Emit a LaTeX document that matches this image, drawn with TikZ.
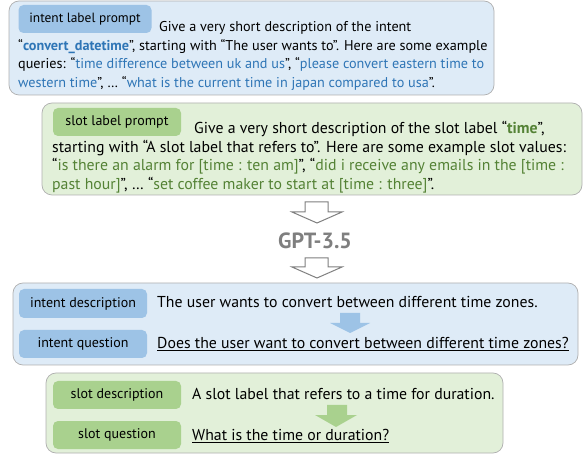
\documentclass[tikz,border=0pt]{standalone}
\usepackage{fontspec}
\setmainfont{PT Sans}
\definecolor{ibg}{HTML}{DEEBF7}
\definecolor{sbg}{HTML}{E2F0D9}
\definecolor{itag}{HTML}{9DC3E6}
\definecolor{stag}{HTML}{A9D18E}
\definecolor{itxt}{HTML}{2E75B6}
\definecolor{stxt}{HTML}{548235}
\definecolor{bord}{HTML}{AFAFAF}
\definecolor{gptgray}{HTML}{7F7F7F}
\begin{document}
\begin{tikzpicture}[x=1pt,y=-1pt,
  panel/.style={draw=bord, line width=0.7pt, rounded corners=10pt, inner sep=0pt},
  tagbox/.style={rounded corners=5pt, inner sep=0pt, text=black, font=\fontsize{14}{16}\selectfont},
  lnA/.style={anchor=base west, inner sep=0pt, font=\fontsize{14.2}{16}\selectfont},
  lnB/.style={anchor=base west, inner sep=0pt, font=\fontsize{15.8}{17}\selectfont},
  lnC/.style={anchor=base west, inner sep=0pt, font=\fontsize{15.8}{17}\selectfont},
  hollow/.style={draw=gptgray, fill=white, line width=1pt, line join=miter},
]
\useasboundingbox (0,0) rectangle (584,454);

% ---------- intent label prompt ----------
\node[panel, fill=ibg, minimum width=485pt, minimum height=94pt] (ip) at (251.5,48) {};
\node[tagbox, fill=itag, minimum width=133pt, minimum height=28pt, font=\fontsize{13.4}{16}\selectfont] (ipt) at (85,19) {intent label prompt};
\node[lnA] (ip1) at (159,32) {Give a very short description of the intent};
\node[lnA] (ip2) at (18,50.5) {“\textcolor{itxt}{\bfseries convert\_datetime}”, starting with “The user wants to”. Here are some example};
\node[lnA] (ip3) at (18,69) {queries: “\textcolor{itxt}{time difference between uk and us}”, “\textcolor{itxt}{please convert eastern time to}};
\node[lnA] (ip4) at (18,87.5) {\textcolor{itxt}{western time}”, … “\textcolor{itxt}{what is the current time in japan compared to usa}”.};

% ---------- slot label prompt ----------
\node[panel, fill=sbg, minimum width=540pt, minimum height=92pt] (sp) at (312,149) {};
\node[tagbox, fill=stag, minimum width=128pt, minimum height=28pt] (spt) at (117,122) {slot label prompt};
\node[lnB] (sp1) at (194,134) {Give a very short description of the slot label “\textcolor{stxt}{\bfseries time}”,};
\node[lnB] (sp2) at (52,152.5) {starting with “A slot label that refers to”. Here are some example slot values:};
\node[lnB] (sp3) at (52,171) {“\textcolor{stxt}{is there an alarm for [time : ten am]}”, “\textcolor{stxt}{did i receive any emails in the [time :}};
\node[lnB] (sp4) at (52,189.5) {\textcolor{stxt}{past hour]}”, … “\textcolor{stxt}{set coffee maker to start at [time : three]}”.};

% ---------- GPT ----------
\draw[hollow] (305,202) -- (328,202) -- (328,212) -- (342,212) -- (317,223) -- (292,212) -- (305,212) -- cycle;
\node[font=\bfseries\fontsize{22}{24}\selectfont, text=gptgray, inner sep=0pt] (gpt) at (315,240.5) {GPT-3.5};
\draw[hollow] (305,258) -- (328,258) -- (328,267) -- (342,267) -- (317,278) -- (292,267) -- (305,267) -- cycle;

% ---------- intent output ----------
\node[panel, fill=ibg, minimum width=565pt, minimum height=82pt] (io) at (295.5,324) {};
\node[tagbox, fill=itag, minimum width=128pt, minimum height=29pt] (iot1) at (83,303.5) {intent description};
\node[tagbox, fill=itag, minimum width=128pt, minimum height=28pt] (iot2) at (83,344) {intent question};
\node[lnC] (io1) at (157,307.5) {The user wants to convert between different time zones.};
\node[lnC] (io2) at (157,348.5) {\underline{Does the user want to convert between different time zones?}};
\fill[itag] (340,313) -- (360,313) -- (360,323) -- (370,323) -- (350,333) -- (330,323) -- (340,323) -- cycle;

% ---------- slot output ----------
\node[panel, fill=sbg, minimum width=457pt, minimum height=80pt] (so) at (274.5,413) {};
\node[tagbox, fill=stag, minimum width=128pt, minimum height=28pt] (sot1) at (117,395) {slot description};
\node[tagbox, fill=stag, minimum width=128pt, minimum height=28pt] (sot2) at (117,435) {slot question};
\node[lnC] (so1) at (192,399.5) {A slot label that refers to a time for duration.};
\node[lnC] (so2) at (192,440.5) {\underline{What is the time or duration?}};
\fill[stag] (327,405) -- (347,405) -- (347,415) -- (357,415) -- (336,427) -- (315,415) -- (327,415) -- cycle;
\end{tikzpicture}
\end{document}
